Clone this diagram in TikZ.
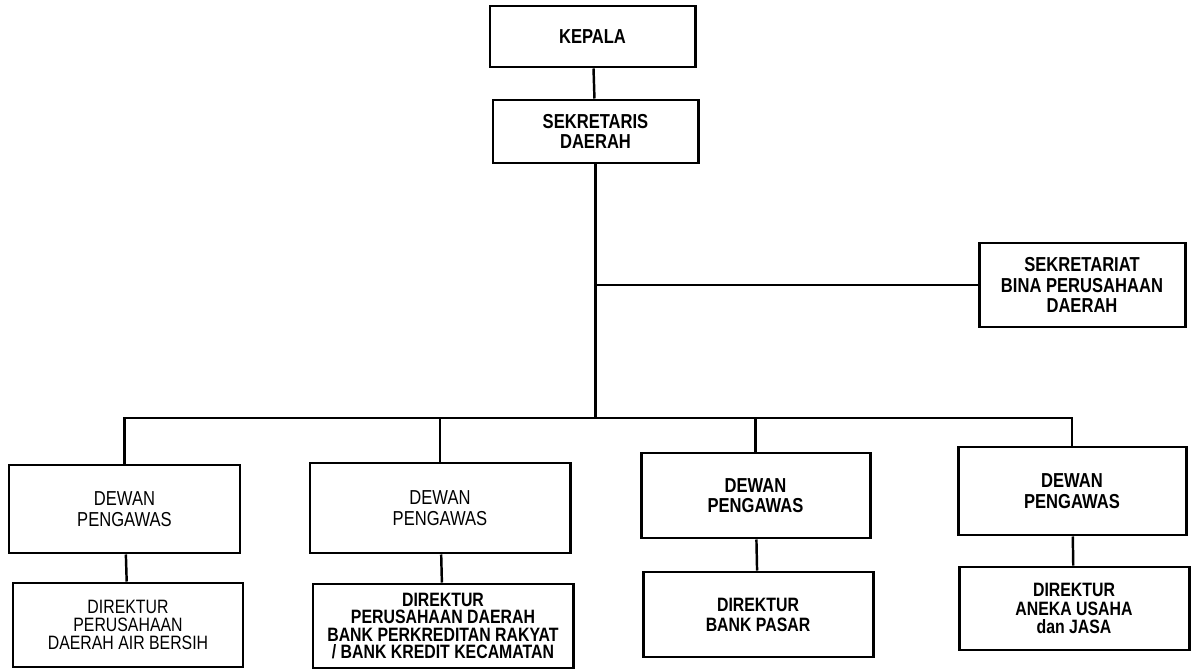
\documentclass[tikz,border=0pt]{standalone}
\usepackage{fontspec}
\setmainfont{Liberation Sans}[FakeStretch=0.82]
\usepackage{tikz}
\usetikzlibrary{shapes,arrows,positioning}

\begin{document}
\begin{tikzpicture}[scale=1,
  unit/.style={draw, line width=1.7pt, align=center, inner sep=2pt, font=\fontsize{11.5}{11.6}\selectfont},
  unitb/.style={unit, font=\fontsize{11.5}{11.6}\selectfont\bfseries},
  dir/.style={unit, font=\fontsize{11}{10.4}\selectfont},
  dirb/.style={dir, font=\fontsize{11}{10.4}\selectfont\bfseries},
  link/.style={line width=1.4pt}]
\useasboundingbox (0,0) rectangle (23.84,-13.4);
\node (kepala) at (11.85,-0.73) [unitb, minimum width=4.1cm, minimum height=1.22cm] {KEPALA};
\node (sekda) at (11.91,-2.63) [unitb, minimum width=4.1cm, minimum height=1.26cm] {SEKRETARIS\\DAERAH};
\node (bina) at (21.64,-5.70) [unitb, minimum width=4.12cm, minimum height=1.68cm] {SEKRETARIAT\\BINA PERUSAHAAN\\DAERAH};
\coordinate (bus) at (11.91,-8.36);
\node (dewanA) at (2.49,-10.18) [unit, minimum width=4.62cm, minimum height=1.76cm] {DEWAN\\PENGAWAS};
\node (dewanB) at (8.80,-10.16) [unit, minimum width=5.2cm, minimum height=1.8cm] {DEWAN\\PENGAWAS};
\node (dewanC) at (15.11,-9.91) [unitb, minimum width=4.58cm, minimum height=1.7cm] {DEWAN\\PENGAWAS};
\node (dewanD) at (21.44,-9.82) [unitb, minimum width=4.56cm, minimum height=1.76cm] {DEWAN\\PENGAWAS};
\node (dirA) at (2.56,-12.50) [dir, minimum width=4.6cm, minimum height=1.68cm] {DIREKTUR\\PERUSAHAAN\\DAERAH AIR BERSIH};
\node (dirB) at (8.86,-12.52) [dirb, minimum width=5.2cm, minimum height=1.68cm, font=\fontsize{11}{9.8}\selectfont\bfseries] {DIREKTUR\\PERUSAHAAN DAERAH\\BANK PERKREDITAN RAKYAT\\/ BANK KREDIT KECAMATAN};
\node (dirC) at (15.16,-12.29) [dirb, minimum width=4.6cm, minimum height=1.7cm, font=\fontsize{11}{11.4}\selectfont\bfseries] {DIREKTUR\\BANK PASAR};
\node (dirD) at (21.48,-12.17) [dirb, minimum width=4.6cm, minimum height=1.66cm] {DIREKTUR\\ANEKA USAHA\\dan JASA};
\draw[link] (kepala) -- (sekda);
\draw[link] (sekda.south) -- (bus);
\draw[link] (sekda.south |- bina.west) -- (bina.west);
\draw[link] (dewanA.north) -- (dewanA.north |- bus) -- (dewanD.north |- bus) -- (dewanD.north);
\draw[link] (dewanB.north) -- (dewanB.north |- bus);
\draw[link] (dewanC.north) -- (dewanC.north |- bus);
\draw[link] (dewanA) -- (dirA);
\draw[link] (dewanB) -- (dirB);
\draw[link] (dewanC) -- (dirC);
\draw[link] (dewanD) -- (dirD);
\end{tikzpicture}
\end{document}
